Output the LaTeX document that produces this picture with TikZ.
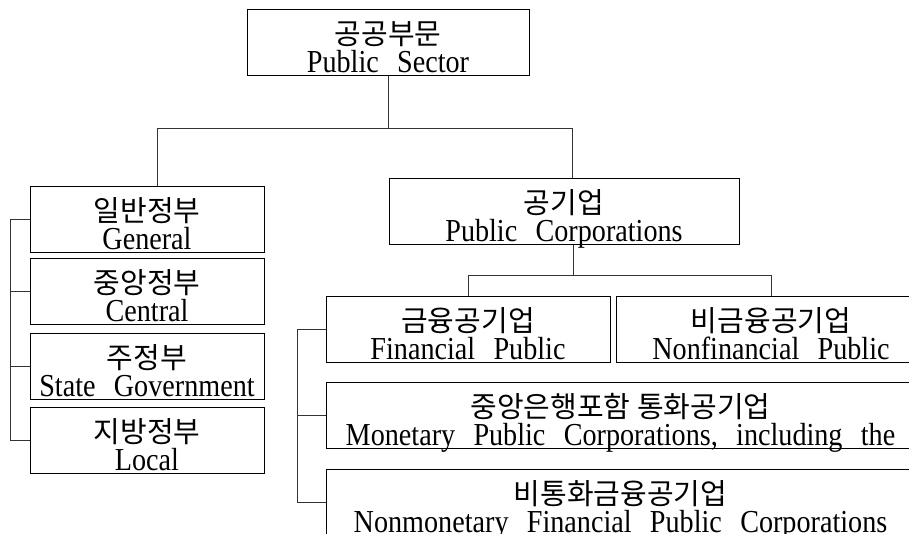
\documentclass[tikz,border=0pt]{standalone}
\usepackage{fontspec}
\setmainfont{Liberation Serif}[FakeStretch=0.88, WordSpace=2.6]
\newfontfamily\hangulfont{Noto Sans CJK KR}
\newcommand\kor{\hangulfont\fontsize{29}{27}\selectfont}
\usetikzlibrary{positioning}

\begin{document}
\begin{tikzpicture}[
    x=1pt, y=-1pt,
    node distance=5pt,
    box/.style={rectangle, draw, line width=1pt, inner sep=0pt, minimum height=66pt, align=center,
        text height=63pt, text depth=3pt, font=\fontsize{32}{28}\selectfont},
    link/.style={line width=0.8pt, black!80}
]
\useasboundingbox (0,0) rectangle (909,533);

\node[box, minimum width=282pt] (sector) at (388,42) {{\kor 공공부문}\\Public Sector};
\node[box, minimum width=350pt] (corp) at (564,211) {{\kor 공기업}\\Public Corporations};

% general government
\node[box, minimum width=234pt] (general) at (147,219) {{\kor 일반정부}\\General};
\node[box, minimum width=234pt, below=5pt of general] (central) {{\kor 중앙정부}\\Central};
\node[box, minimum width=234pt, below=8pt of central] (state) {{\kor 주정부}\\State Government};
\node[box, minimum width=234pt, below=7pt of state] (local) {{\kor 지방정부}\\Local};

% public corporations
\node[box, minimum width=284pt] (fin) at (468,329) {{\kor 금융공기업}\\Financial Public};
\node[box, minimum width=310pt, right=5pt of fin] (nonfin) {{\kor 비금융공기업}\\Nonfinancial Public};
\node[box, minimum width=589pt, below right=19pt and 0pt of fin.south west] (monetary) {{\kor 중앙은행포함 통화공기업}\\Monetary Public Corporations, including the};
\node[box, minimum width=589pt, below=20pt of monetary] (nonmon) {{\kor 비통화금융공기업}\\Nonmonetary Financial Public Corporations};

\draw[link] (sector.south) -- ++(0,53) coordinate (top);
\draw[link] ([xshift=10pt]general.north) |- (top) -| ([xshift=8pt]corp.north);
\draw[link] ([xshift=9pt]corp.south) -- ++(0,31) coordinate (mid);
\draw[link] (fin.north) |- (mid) -| (nonfin.north);

\coordinate (lb) at ([xshift=-19pt]general.west);
\draw[link] (general.west) -- (lb) |- (local.west);
\foreach \n in {central, state}
    \draw[link] (\n.west) -- (\n.west -| lb);

\coordinate (rb) at ([xshift=-28pt]fin.west);
\draw[link] (fin.west) -- (rb) |- (nonmon.west);
\draw[link] (monetary.west) -- (monetary.west -| rb);

\end{tikzpicture}
\end{document}
